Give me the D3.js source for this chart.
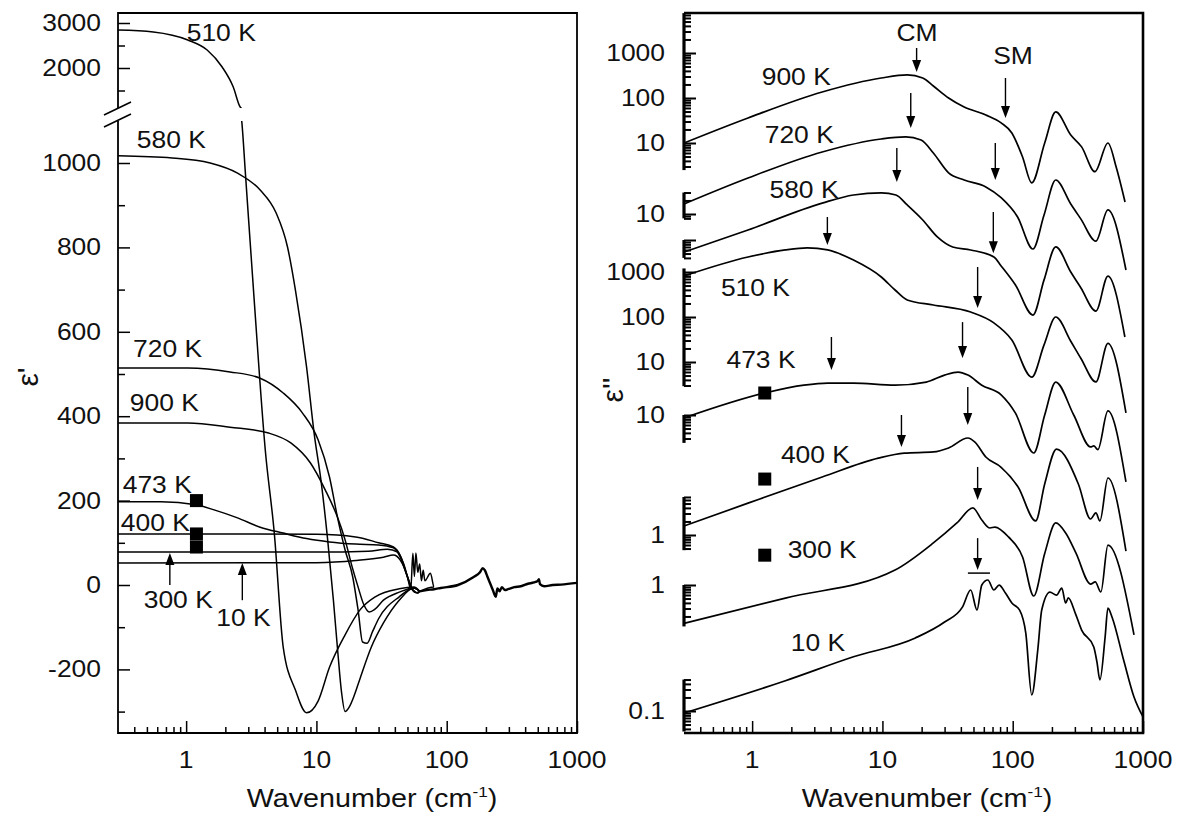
<!DOCTYPE html>
<html>
<head>
<meta charset="utf-8">
<script src="https://cdnjs.cloudflare.com/ajax/libs/d3/7.8.5/d3.min.js"></script>
<style>
  body { margin: 0; background: #fff; }
  text { fill: #111; }
</style>
</head>
<body>
<script>
// ---------------- data: left panel, eps' (wavenumber cm-1, eps') ----------------
const e1_510 = [[0.3,2844],[0.56,2800],[1.03,2622],[1.45,2400],[1.89,2022],[2.3,1578],[2.6,1133],[2.68,1095],[2.85,976],[3.33,675],[4.05,320],[4.75,123],[5.56,-147],[6.9,-249],[8.4,-303],[10.3,-275],[12.6,-195],[16.6,-118],[21.6,-59],[28.3,-28],[43.2,-9],[56,-5]];
const e1_580 = [[0.3,1017],[0.78,1012],[1.53,1000],[2.48,976],[3.7,936],[4.9,882],[6,801],[6.9,699],[8.4,517],[9.6,360],[10.9,242],[12.2,107],[13.5,-36],[14.6,-160],[15.6,-255],[16.6,-300],[17.8,-290],[19.5,-262],[21.6,-222],[26.4,-147],[32.7,-90],[43.2,-36],[56,-7]];
const e1_720 = [[0.3,514],[1.03,514],[2.17,505],[3.7,490],[5.56,455],[7.8,408],[10.3,344],[12.6,256],[14.5,161],[16.6,83],[19,19],[20.9,-60],[22.6,-135],[24.5,-138],[27,-110],[30,-80],[43.2,-28],[56,-7]];
const e1_900 = [[0.3,384],[1.03,384],[2.17,374],[4.3,360],[6.4,336],[9,289],[11.7,225],[14.5,161],[16.6,107],[18.8,43],[20.9,-5],[23,-45],[25.5,-64],[28,-58],[32.7,-36],[43.2,-17],[56,-7]];
const e1_473 = [[0.3,197],[0.64,197],[1.19,190],[1.64,178],[2.48,159],[3.7,137],[5.56,123],[8.4,110],[12.6,102],[20,97],[30,95],[39,88],[44,66],[50,19],[55,-12],[60,-19]];
const e1_400 = [[0.3,121],[3,121],[10,120],[20,114],[30,100],[39,90],[44,70],[50,20],[55,-12],[60,-19]];
const e1_300 = [[0.3,78],[10,78],[25,80],[35,85],[42,78],[46.5,52],[53,-5],[58,-18]];
const e1_10  = [[0.3,52],[10,53],[20,58],[32.7,66],[39,71],[44,59],[50,19],[53,-10],[55,75],[56.5,20],[58,76],[60,30],[62,50],[64,10],[66,35],[68,10],[75,28],[80,-5]];
// common high-frequency part shared by all temperatures
const e1_tail = [[62,-15],[70,-12],[80,-10],[90,-7],[122,0],[161,19],[180,30],[189,40],[196,35],[207,17],[218,0],[226,-12],[238,-28],[245,-8],[255,-15],[265,-5],[280,-12],[295,-10],[330,-5],[371,-3],[420,3],[467,6],[500,10],[510,14],[520,2],[559,-3],[650,0],[754,1],[1000,5]];

const leftLabels  = [['510 K',1.86,2778],['580 K',0.77,1054],['720 K',0.72,559],['900 K',0.68,431],['473 K',0.6,237],['400 K',0.58,147],['300 K',0.87,-36],['10 K',2.75,-78]];
const leftArrows  = [[0.75,0,76],[2.7,-36,52]];          // [nu, tail value, tip value]
const leftSquares = [[1.2,200],[1.2,121],[1.2,90]];
const leftMajor = [-200,0,200,400,600,800,1000];
const leftMinor = [-300,-100,100,300,500,700,900];
const upMajor = [2000,3000];
const upMinor = [1500,2500];

// ---------------- data: right panel, eps'' (each spectrum on its own log axis) ----------------
const temps = ['900 K','720 K','580 K','510 K','473 K','400 K','300 K','10 K'];
const e2_900 = [[0.3,10],[0.93,36],[3.45,136],[9.8,278],[15.5,325],[20.4,278],[24.6,185],[32.2,100],[42.4,63],[62.2,42],[81.5,28],[98.5,16.7],[119,4.9],[140,1.3],[176,10],[214,49],[279,15],[338,8.2],[428,2.3],[538,10],[623,2.9],[728,0.49]];
const e2_720 = [[0.3,16.7],[0.93,63],[3.45,239],[9.8,464],[15.1,515],[19.8,441],[24.6,227],[32.2,82],[42.4,57],[62.2,40],[81.5,23],[109,8.6],[143,1.67],[174,9.5],[214,57],[279,16.7],[334,7.7],[435,2.5],[538,12.3],[740,0.57]];
const e2_580 = [[0.3,5.4],[0.93,16.7],[3.45,66],[6,100],[9.8,111],[12.7,100],[15.5,60],[20.4,27.8],[26.4,11.7],[34.6,7],[47.6,6],[71.7,4.2],[81.5,2.65],[105,1],[143,0.215],[174,1.3],[214,7],[279,1.95],[334,0.86],[435,0.263],[538,1.58],[726,0.07]];
const e2_510 = [[0.3,815],[0.93,2150],[1.8,3090],[2.65,3420],[3.8,3090],[6,1840],[9.8,774],[12.5,398],[15.5,239],[24.6,185],[47.6,129],[71.7,74],[98.5,31],[140,4.6],[174,24],[214,100],[279,29],[334,12],[435,3.6],[538,26],[740,0.74]];
const e2_473 = [[0.3,8.6],[1.25,30.8],[2.5,46],[3.8,51],[6,51],[12.5,46],[21.7,54],[30,77],[38,90],[45.3,77],[57.9,46],[81.5,28],[105,11],[145,1.43],[176,10],[214,54],[294,10],[396,1.95],[419,2.05],[450,1.7],[538,12.3],[740,0.325]];
const e2_400 = [[0.3,1.58],[0.93,5.1],[3.45,19.4],[9.3,51],[14.7,66],[24.6,70],[32.2,86],[45.3,143],[51.3,116],[62.2,54],[81.5,32],[110,11.7],[150,2.05],[176,13.6],[217,81],[319,13.6],[396,2.27],[435,3.1],[467,2.05],[538,18.5],[740,0.44]];
const e2_300 = [[0.3,0.14],[1.8,0.51],[12.5,2.15],[24.6,8.6],[37.3,23.9],[49.5,51.5],[57.9,27.8],[66.9,18.5],[72.9,19.4],[92.8,11.7],[119,4.2],[145,0.57],[176,5],[214,23.9],[255,14.3],[306,5.1],[396,1.05],[430,1.17],[475,0.7],[538,7.7],[853,0.078]];
const e2_10  = [[0.3,0.09],[1.8,0.47],[6,1.6],[17.9,4.2],[30,9.5],[41.1,20.3],[47.6,48.8],[53.2,17.5],[57.9,63],[64.4,81.5],[71.7,48.8],[78.6,63],[87.9,42],[98.5,25.1],[113,17.5],[126,5.4],[140,0.227],[156,2.39],[167,17.5],[193,44],[217,37.5],[238,54],[255,25.1],[267,32.5],[302,15],[338,6.3],[419,2.65],[443,1.23],[467,0.49],[512,4.41],[538,19.4],[578,12.3],[710,1.36],[853,0.205],[1000,0.074]];
const rightSeries = [e2_900, e2_720, e2_580, e2_510, e2_473, e2_400, e2_300, e2_10];

const rowAnchor = [10,10,10,10,10,1,1,0.1];                 // labelled value used to place each row
const segRange  = [[2.5,7700],[8,30],[4,10],[2.9,1200],[2.4,10],[0.46,7],[0.12,1],[0.035,0.5]];
const segLabels = [[10,100,1000],[10],[],[10,100,1000],[10],[1],[1],[0.1]];
const rightLabels = [[0,2.18,293],[1,2.3,569],[2,2.5,129],[3,1.06,441],[4,1.17,167],[5,3.06,60],[6,3.45,6.0],[7,3.2,3.26]];
// [row, nu, tip value, tail value]
const rightArrows = [[0,18.3,379,1290],[0,88,36,278],[1,16.5,815,4890],[1,73.5,57,379],[2,12.9,194,1110],[2,71,5.1,41.9],
  [3,3.78,3980,16700],[3,53.8,158,1290],[4,4.06,100,542],[4,41.2,185,1160],[5,14,90,464],[5,45.2,279,1940],[6,53.8,77.6,420],[7,53.8,136,695]];
const rightSquares = [[4,1.25,30.8],[5,1.25,17.5],[6,1.25,4.6]];
const tenKBar = [7,45.3,66.9,116];

const xMajor = [1,10,100,1000];
const xMinor = [0.4,0.5,0.6,0.7,0.8,0.9,2,3,4,5,6,7,8,9,20,30,40,50,60,70,80,90,200,300,400,500,600,700,800,900];

// ---------------- drawing ----------------
const SX = 1.15;            // the figure's lettering is a bit wide
const svg = d3.select('body').append('svg')
    .attr('width', 1181).attr('height', 826)
    .style('font-family', '"Liberation Sans", Arial, sans-serif');

function label(g, x, y, s, size, anchor) {
    return g.append('text')
        .attr('transform', `translate(${x},${y}) scale(${SX},1)`)
        .attr('text-anchor', anchor || 'middle')
        .attr('dy', '0.35em')
        .attr('font-size', size || 23)
        .text(s);
}
function ticks(g, axis) {
    g.call(axis).call(a => a.select('.domain').remove());
    g.selectAll('line').attr('stroke', '#000').attr('stroke-width', 1.5);
}
function arrow(g, x, yTail, yTip) {
    const dir = yTip > yTail ? 1 : -1;
    g.append('line').attr('x1', x).attr('x2', x).attr('y1', yTail).attr('y2', yTip - dir * 8)
        .attr('stroke', '#000').attr('stroke-width', 1.4);
    g.append('path')
        .attr('d', `M${x - 4.5},${yTip - dir * 12}L${x + 4.5},${yTip - dir * 12}L${x},${yTip}Z`)
        .attr('fill', '#000');
}
function xAxis(g, x, bottom, cx) {
    ticks(g.append('g').attr('transform', `translate(0,${bottom})`),
        d3.axisBottom(x).tickValues(xMinor).tickSize(-6).tickFormat(''));
    ticks(g.append('g').attr('transform', `translate(0,${bottom})`),
        d3.axisBottom(x).tickValues(xMajor).tickSize(-12).tickFormat(''));
    xMajor.forEach(v => label(g, x(v), 760, String(v)));
    const t = g.append('text')
        .attr('transform', `translate(${cx},807) scale(${SX},1)`)
        .attr('text-anchor', 'middle').attr('font-size', 25);
    t.append('tspan').text('Wavenumber (cm');
    t.append('tspan').attr('font-size', 15).attr('dy', -10).text('-1');
    t.append('tspan').attr('dy', 10).text(')');
}

// ---------- left panel ----------
const L = { left: 118, right: 577, top: 13, bottom: 733, gapTop: 108, gapBot: 121 };
const xL = d3.scaleLog().domain([0.3, 1000]).range([L.left, L.right]);
const yUp = d3.scaleLinear().domain([2000, 3000]).range([68, 23]);
const yLo = d3.scaleLinear().domain([0, 1000]).range([585, 163]);
const yL = v => (v > 1110 ? yUp(v) : yLo(v));

const defs = svg.append('defs');
defs.append('clipPath').attr('id', 'clipUp').append('rect')
    .attr('x', L.left).attr('y', L.top).attr('width', L.right - L.left).attr('height', L.gapTop - L.top);
defs.append('clipPath').attr('id', 'clipLo').append('rect')
    .attr('x', L.left).attr('y', L.gapBot).attr('width', L.right - L.left).attr('height', L.bottom - L.gapBot);

const left = svg.append('g');
left.append('path')
    .attr('d', `M${L.left},${L.gapTop}V${L.top}H${L.right}V${L.bottom}H${L.left}V${L.gapBot}`)
    .attr('fill', 'none').attr('stroke', '#000').attr('stroke-width', 1.8);
// axis break marks
[0, 12].forEach(o => left.append('line')
    .attr('x1', L.left - 14).attr('y1', 115 + o).attr('x2', L.left + 13).attr('y2', 102 + o)
    .attr('stroke', '#000').attr('stroke-width', 1.6));

ticks(left.append('g').attr('transform', `translate(${L.left},0)`), d3.axisLeft(yLo).tickValues(leftMinor).tickSize(-7).tickFormat(''));
ticks(left.append('g').attr('transform', `translate(${L.left},0)`), d3.axisLeft(yLo).tickValues(leftMajor).tickSize(-12).tickFormat(''));
ticks(left.append('g').attr('transform', `translate(${L.left},0)`), d3.axisLeft(yUp).tickValues(upMinor).tickSize(-7).tickFormat(''));
ticks(left.append('g').attr('transform', `translate(${L.left},0)`), d3.axisLeft(yUp).tickValues(upMajor).tickSize(-12).tickFormat(''));
leftMajor.concat(upMajor).forEach(v => label(left, 101, yL(v), String(v), 23, 'end'));
xAxis(left, xL, L.bottom, 372);

svg.append('text').attr('transform', 'translate(27,377) rotate(-90)')
    .attr('text-anchor', 'middle').attr('dy', '0.35em').attr('font-size', 30).text("ε'");

const lineUp = d3.line().x(d => xL(d[0])).y(d => yUp(d[1])).curve(d3.curveMonotoneX);
const lineLo = d3.line().x(d => xL(d[0])).y(d => yLo(d[1])).curve(d3.curveMonotoneX);
[e1_510, e1_580, e1_720, e1_900, e1_473, e1_400, e1_300, e1_10].forEach(s => {
    left.append('path').attr('d', lineLo(s.concat([e1_tail[0]]))).attr('clip-path', 'url(#clipLo)')
        .attr('fill', 'none').attr('stroke', '#000').attr('stroke-width', 1.5);
    if (d3.max(s, d => d[1]) > 1110)
        left.append('path').attr('d', lineUp(s)).attr('clip-path', 'url(#clipUp)')
            .attr('fill', 'none').attr('stroke', '#000').attr('stroke-width', 1.5);
});
// all spectra overlap above ~60 cm-1, so this part looks heavier
left.append('path').attr('d', lineLo(e1_tail)).attr('clip-path', 'url(#clipLo)')
    .attr('fill', 'none').attr('stroke', '#000').attr('stroke-width', 2.4).attr('stroke-linejoin', 'round');
leftSquares.forEach(d => left.append('rect')
    .attr('x', xL(d[0]) - 6.5).attr('y', yLo(d[1]) - 6.5).attr('width', 13).attr('height', 13).attr('fill', '#000'));
leftArrows.forEach(d => arrow(left, xL(d[0]), yLo(d[1]), yLo(d[2])));
leftLabels.forEach(d => label(left, xL(d[1]), yL(d[2]), d[0]));

// ---------- right panel ----------
const R = { left: 684, right: 1143, top: 13, bottom: 733, decade: 45 };
const rowY = [143, 214, 240, 362, 415, 535, 585, 711];     // pixel row of each anchor value
const xR = d3.scaleLog().domain([0.3, 1000]).range([R.left, R.right]);
const yR = rowAnchor.map((a, i) => d3.scaleLog().domain([a, a * 10]).range([rowY[i], rowY[i] - R.decade]));

const right = svg.append('g');
right.append('path')
    .attr('d', `M${R.left},${R.top}H${R.right}V${R.bottom}H${R.left}`)
    .attr('fill', 'none').attr('stroke', '#000').attr('stroke-width', 2.6);

segRange.forEach(([lo, hi], i) => {
    const y = yR[i];
    right.append('line').attr('x1', R.left).attr('x2', R.left).attr('y1', y(lo)).attr('y2', y(hi))
        .attr('stroke', '#000').attr('stroke-width', 3.2);
    const all = [];
    for (let e = -2; e <= 4; e++) for (let k = 1; k < 10; k++) {
        const v = +(k + 'e' + e);
        if (v >= lo * 0.999 && v <= hi * 1.001) all.push(v);
    }
    const major = all.filter(v => /^(0\.0*1|10*)$/.test(String(v)));
    const minor = all.filter(v => !major.includes(v));
    ticks(right.append('g').attr('transform', `translate(${R.left},0)`), d3.axisLeft(y).tickValues(minor).tickSize(-7).tickFormat(''));
    ticks(right.append('g').attr('transform', `translate(${R.left},0)`), d3.axisLeft(y).tickValues(major).tickSize(-12).tickFormat(''));
    right.selectAll('.tick line').attr('stroke-width', 2);
    segLabels[i].forEach(v => label(right, 665, y(v), String(v), 23, 'end'));
});
xAxis(right, xR, R.bottom, 927);

svg.append('text').attr('transform', 'translate(612,390) rotate(-90)')
    .attr('text-anchor', 'middle').attr('dy', '0.35em').attr('font-size', 30).text("ε''");

rightSeries.forEach((s, i) => {
    const line = d3.line().x(d => xR(d[0])).y(d => yR[i](d[1])).curve(d3.curveMonotoneX);
    right.append('path').attr('d', line(s))
        .attr('fill', 'none').attr('stroke', '#000').attr('stroke-width', 1.7);
});
rightSquares.forEach(d => right.append('rect')
    .attr('x', xR(d[1]) - 6.5).attr('y', yR[d[0]](d[2]) - 6.5).attr('width', 13).attr('height', 13).attr('fill', '#000'));
rightArrows.forEach(d => arrow(right, xR(d[1]), yR[d[0]](d[3]), yR[d[0]](d[2])));
right.append('line')
    .attr('x1', xR(tenKBar[1])).attr('x2', xR(tenKBar[2]))
    .attr('y1', yR[tenKBar[0]](tenKBar[3])).attr('y2', yR[tenKBar[0]](tenKBar[3]))
    .attr('stroke', '#000').attr('stroke-width', 1.5);
rightLabels.forEach(d => label(right, xR(d[1]), yR[d[0]](d[2]), temps[d[0]]));
label(right, 917, 33, 'CM');
label(right, 1013, 56, 'SM');
</script>
</body>
</html>
